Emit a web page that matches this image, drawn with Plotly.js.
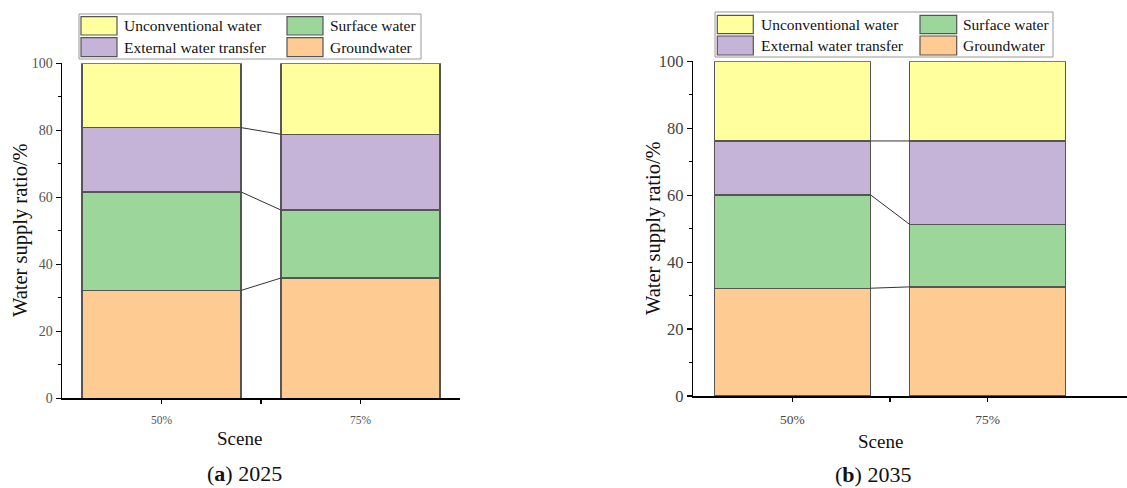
<!DOCTYPE html>
<html>
<head>
<meta charset="utf-8">
<script src="https://cdn.plot.ly/plotly-3.0.1.min.js"></script>
<style>html,body{margin:0;padding:0;background:#fff;}#chart{width:1127px;height:488px;}</style>
</head>
<body>
<div id="chart"></div>
<script>
// ---- data ----
const categories = ['50%', '75%'];
const seriesNames = ['Groundwater', 'Surface water', 'External water transfer', 'Unconventional water'];
const seriesColors = ['#FECB92', '#9DD69B', '#C5B4D7', '#FFFF9E'];
// 2025
const a_groundwater = [32.2, 35.9];
const a_surface = [29.4, 20.3];
const a_external = [19.2, 22.6];
const a_unconventional = [19.2, 21.2];
// 2035
const b_groundwater = [32.2, 32.6];
const b_surface = [27.9, 18.7];
const b_external = [16.1, 24.9];
const b_unconventional = [23.8, 23.8];
const panelTitles = ['2025', '2035'];
const panelLetters = ['a', 'b'];
const xTitle = 'Scene';
const yTitle = 'Water supply ratio/%';

// ---- build ----
const W = 1127, H = 488;
const px = v => v / W;
const py = v => 1 - v / H;
const FONT = 'Liberation Serif, Times New Roman, serif';
const xpos = categories.map((c, i) => i);
const barW = 0.8;

const panels = [
  {series: [a_groundwater, a_surface, a_external, a_unconventional], xa: 'x', ya: 'y'},
  {series: [b_groundwater, b_surface, b_external, b_unconventional], xa: 'x2', ya: 'y2'}
];

const traces = [];
panels.forEach(p => {
  p.series.forEach((vals, k) => {
    traces.push({
      type: 'bar', x: xpos, y: vals, name: seriesNames[k], width: barW,
      xaxis: p.xa, yaxis: p.ya, showlegend: false,
      marker: {color: seriesColors[k], line: {color: '#555', width: 1.3}},
      hoverinfo: 'name+y'
    });
  });
  // connector lines between the stacked boundaries
  const cum = [0, 0];
  for (let k = 0; k < p.series.length - 1; k++) {
    cum[0] += p.series[k][0];
    cum[1] += p.series[k][1];
    traces.push({
      type: 'scatter', mode: 'lines', x: [xpos[0] + barW / 2, xpos[1] - barW / 2], y: [cum[0], cum[1]],
      xaxis: p.xa, yaxis: p.ya, showlegend: false, hoverinfo: 'skip',
      line: {color: '#333', width: 1}
    });
  }
});

function yaxisDef(domain, anchor, fsize, fcolor) {
  return {
    domain: domain, anchor: anchor, range: [0, 100], tickvals: [0, 20, 40, 60, 80, 100],
    ticks: 'outside', ticklen: 5, tickwidth: 1.2, tickcolor: '#000',
    showline: true, linecolor: '#000', linewidth: 1.5, showgrid: false, zeroline: false,
    tickfont: {family: FONT, size: fsize, color: fcolor},
    minor: {tickvals: [10, 30, 50, 70, 90], ticks: 'outside', ticklen: 3, tickwidth: 1.2, tickcolor: '#000'}
  };
}
function xaxisDef(domain, anchor, range, fsize, fcolor, standoff) {
  return {
    domain: domain, anchor: anchor, range: range, tickvals: xpos, ticktext: categories,
    ticks: 'outside', ticklen: 4, tickwidth: 1.2, tickcolor: '#000', ticklabelstandoff: standoff,
    showline: true, linecolor: '#000', linewidth: 1.5, showgrid: false, zeroline: false,
    tickfont: {family: FONT, size: fsize, color: fcolor},
    minor: {tickvals: [0.5], ticks: 'outside', ticklen: 4, tickwidth: 1.2, tickcolor: '#000'}
  };
}

const layout = {
  width: W, height: H, margin: {l: 0, r: 0, t: 0, b: 0},
  paper_bgcolor: '#fff', plot_bgcolor: '#fff', barmode: 'stack', showlegend: false,
  font: {family: FONT},
  xaxis: xaxisDef([px(62), px(460)], 'y', [-0.5, 1.5], 11.5, '#555', 6),
  yaxis: yaxisDef([1 - 398.3 / H, 1 - 63.3 / H], 'x', 14, '#555'),
  xaxis2: xaxisDef([px(693.3), 1], 'y2', [-0.507, 1.713], 13.5, '#444', 6),
  yaxis2: yaxisDef([1 - 396 / H, 1 - 61.3 / H], 'x2', 16.5, '#444'),
  shapes: [], annotations: []
};

// legends (order: Unconventional, Surface / External, Groundwater)
const legendOrder = [3, 1, 2, 0];
const legendBoxes = [
  {box: [79, 14, 421, 59], sw: [[81, 117], [287, 323]], rows: [[16.7, 35], [37.7, 56.7]], tx: [122, 328]},
  {box: [715, 12, 1053, 57], sw: [[717.3, 753.3], [920, 956.7]], rows: [[15.3, 33.7], [36, 55]], tx: [759, 961]}
];
legendBoxes.forEach(L => {
  layout.shapes.push({type: 'rect', xref: 'paper', yref: 'paper', x0: px(L.box[0]), x1: px(L.box[2]), y0: py(L.box[1]), y1: py(L.box[3]),
    line: {color: '#999', width: 1}, fillcolor: 'rgba(0,0,0,0)'});
  legendOrder.forEach((k, i) => {
    const r = Math.floor(i / 2), c = i % 2;
    layout.shapes.push({type: 'rect', xref: 'paper', yref: 'paper', x0: px(L.sw[c][0]), x1: px(L.sw[c][1]),
      y0: py(L.rows[r][0]), y1: py(L.rows[r][1]), line: {color: '#555', width: 1.2}, fillcolor: seriesColors[k]});
    layout.annotations.push({xref: 'paper', yref: 'paper', x: px(L.tx[c]), y: py((L.rows[r][0] + L.rows[r][1]) / 2),
      xanchor: 'left', yanchor: 'middle', showarrow: false, text: seriesNames[k],
      font: {family: FONT, size: 15.5, color: '#111'}});
  });
});

// axis titles and captions
const titleSpots = [
  {scene: [239.5, 438], ytitle: [20, 230], cap: [244, 473]},
  {scene: [880.5, 441], ytitle: [654, 228], cap: [873, 474]}
];
titleSpots.forEach((t, i) => {
  layout.annotations.push({xref: 'paper', yref: 'paper', x: px(t.scene[0]), y: py(t.scene[1]), xanchor: 'center', yanchor: 'middle',
    showarrow: false, text: xTitle, font: {family: FONT, size: 19, color: '#111'}});
  layout.annotations.push({xref: 'paper', yref: 'paper', x: px(t.ytitle[0]), y: py(t.ytitle[1]), xanchor: 'center', yanchor: 'middle',
    showarrow: false, text: yTitle, textangle: -90, font: {family: FONT, size: 20.5, color: '#111'}});
  layout.annotations.push({xref: 'paper', yref: 'paper', x: px(t.cap[0]), y: py(t.cap[1]), xanchor: 'center', yanchor: 'middle',
    showarrow: false, text: '(<b>' + panelLetters[i] + '</b>) ' + panelTitles[i], font: {family: FONT, size: 22, color: '#111'}});
});

Plotly.newPlot('chart', traces, layout, {displayModeBar: false, staticPlot: true});
</script>
</body>
</html>
